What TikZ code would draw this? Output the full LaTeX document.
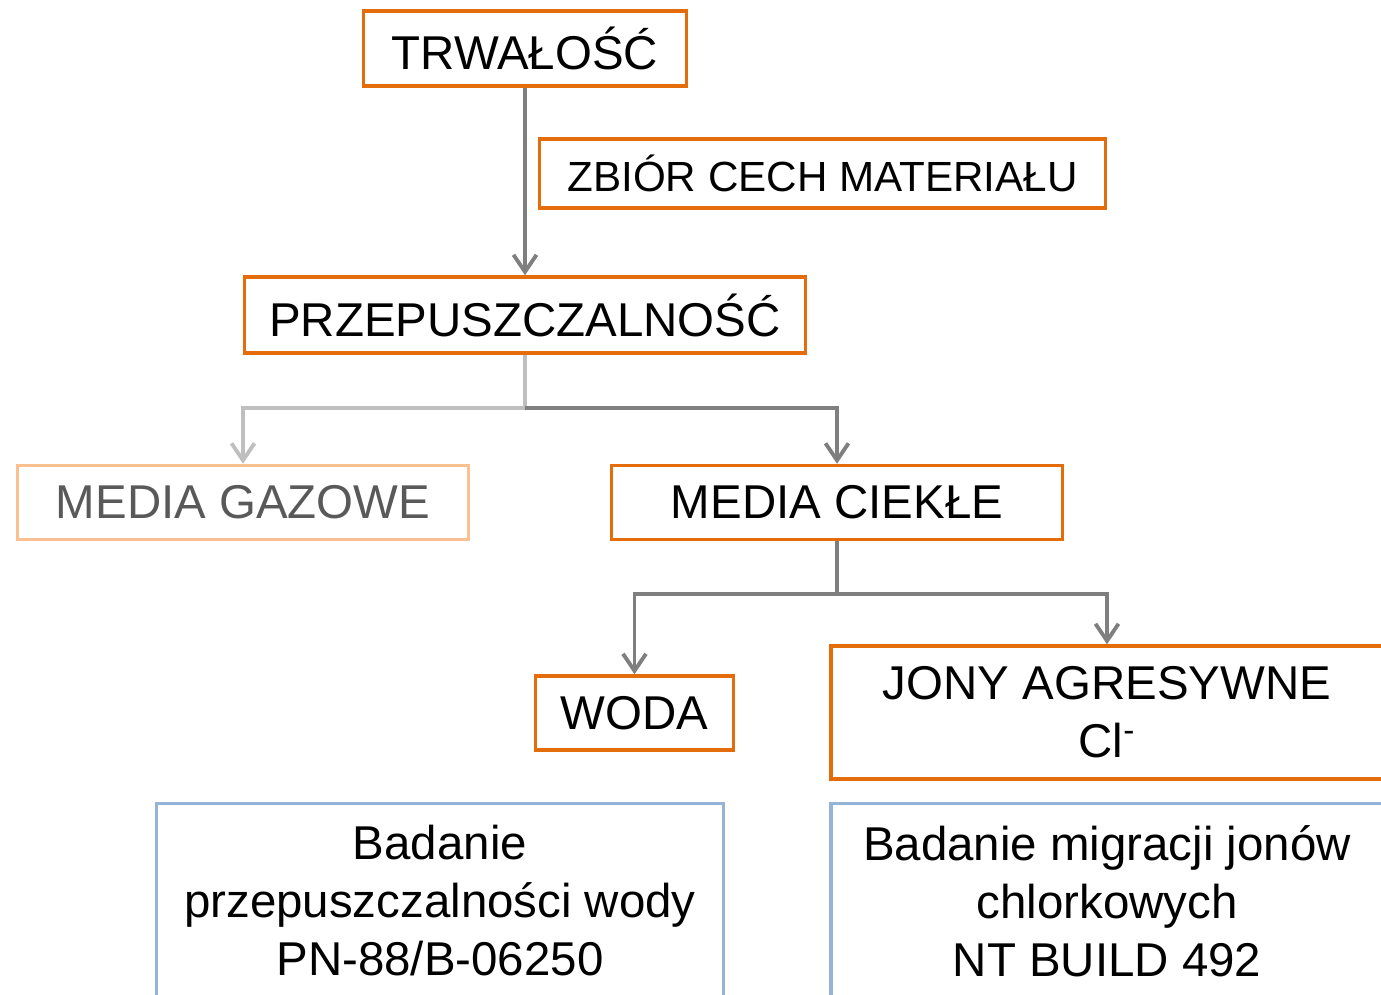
\documentclass[tikz,border=0pt]{standalone}
\usepackage{fontspec}
\setmainfont{Liberation Sans}
\usetikzlibrary{arrows.meta, positioning}
\definecolor{boxorange}{RGB}{228,108,10}
\definecolor{softorange}{RGB}{250,192,144}
\definecolor{boxblue}{RGB}{149,179,215}
\definecolor{linegray}{RGB}{127,127,127}
\definecolor{softgray}{RGB}{191,191,191}
\definecolor{textgray}{RGB}{89,89,89}
\tikzstyle{arrow} = [line width=2.2pt, draw=linegray, ->, >={Straight Barb[length=3.4mm,width=4.6mm]}]
\tikzstyle{softarrow} = [arrow, draw=softgray]
\tikzstyle{box} = [rectangle, line width=2pt, draw=boxorange, inner sep=0pt, minimum height=1.48cm, align=center, text centered, font=\fontsize{27}{33}\selectfont]
\tikzstyle{softbox} = [box, draw=softorange, text=textgray]
\tikzstyle{testbox} = [box, draw=boxblue, minimum height=3.9cm]

\begin{document}
\begin{tikzpicture}
        \useasboundingbox (0,0) rectangle (27.62,-19.88);
        \clip (0,0) rectangle (27.62,-19.88);
        \node (trwalosc) [box, minimum width=6.46cm, minimum height=1.5cm] at (10.5,-0.97) {TRWAŁOŚĆ};
        \node (cechy) [box, minimum width=11.32cm, minimum height=1.38cm, font=\fontsize{24}{29}\selectfont] at (16.45,-3.47) {ZBIÓR CECH MATERIAŁU};
        \node (przep) [box, minimum width=11.22cm, minimum height=1.52cm] at (10.5,-6.3) {PRZEPUSZCZALNOŚĆ};
        \node (gazowe) [softbox, minimum width=9.02cm] at (4.86,-10.05) {MEDIA GAZOWE};
        \node (ciekle) [box, minimum width=9.02cm] at (16.74,-10.05) {MEDIA CIEKŁE};
        \node (woda) [box, minimum width=3.96cm, minimum height=1.48cm] at (12.69,-14.26) {WODA};
        \node (jony) [box, minimum width=11.04cm, minimum height=2.66cm] at (22.14,-14.25) {JONY AGRESYWNE\\Cl\textsuperscript{-}};
        \node (wodabad) [testbox, minimum width=11.34cm] at (8.8,-18.02) {Badanie\\przepuszczalności wody\\PN-88/B-06250};
        \node (jonybad) [testbox, minimum width=11.04cm] at (22.14,-18.02) {Badanie migracji jonów\\chlorkowych\\NT BUILD 492};
        \coordinate (przepsplit) at (10.5,-8.16);
        \coordinate (cieklesplit) at (16.74,-11.88);
        \draw [arrow] (trwalosc.south) -- (przep.north);
        \draw [softarrow] (przep.south) -- (przepsplit) -| (gazowe.north);
        \draw [arrow] (przepsplit) -| (ciekle.north);
        \draw [arrow] (ciekle.south) -- (cieklesplit) -| (woda.north);
        \draw [arrow] (cieklesplit) -| (jony.north);
    \end{tikzpicture}
\end{document}
